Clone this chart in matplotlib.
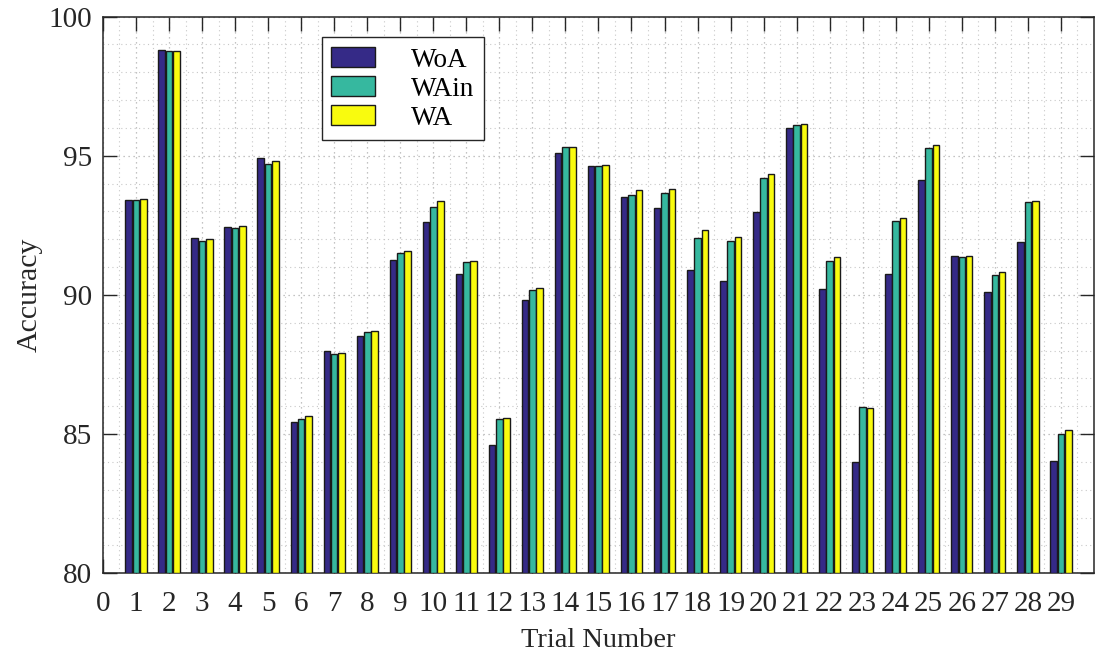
import numpy as np
import matplotlib
matplotlib.use("Agg")
import matplotlib.pyplot as plt
from matplotlib.ticker import MultipleLocator

plt.rcParams['font.family'] = ['Liberation Serif', 'DejaVu Serif']

trials = list(range(1, 30))
woa = [93.41, 98.80, 92.06, 92.44, 94.91, 85.45, 87.99, 88.53, 91.26, 92.63,
       90.77, 84.60, 89.81, 95.11, 94.64, 93.51, 93.12, 90.90, 90.49, 92.99,
       95.99, 90.22, 84.00, 90.74, 94.13, 91.40, 90.11, 91.92, 84.04]
wain = [93.41, 98.77, 91.94, 92.41, 94.72, 85.53, 87.88, 88.66, 91.50, 93.16,
        91.20, 85.53, 90.17, 95.33, 94.64, 93.59, 93.65, 92.05, 91.94, 94.22,
        96.12, 91.22, 85.96, 92.65, 95.29, 91.35, 90.71, 93.33, 84.99]
wa = [93.44, 98.76, 92.00, 92.49, 94.81, 85.64, 87.93, 88.70, 91.58, 93.38,
      91.21, 85.58, 90.25, 95.33, 94.68, 93.76, 93.80, 92.32, 92.10, 94.34,
      96.14, 91.35, 85.94, 92.76, 95.38, 91.39, 90.83, 93.38, 85.15]
series_names = ['WoA', 'WAin', 'WA']
colors = ['#352A87', '#36B89F', '#F9FB0E']

fig = plt.figure(figsize=(11.06, 6.56), dpi=100)
ax = fig.add_axes([0.0931, 0.1261, 0.8960, 0.8485])

x = np.array(trials)
w = 0.2
step = 0.222
for i, (vals, name, c) in enumerate(zip([woa, wain, wa], series_names, colors)):
    ax.bar(x + (i - 1) * step, np.array(vals) - 80, width=w, bottom=80,
           color=c, edgecolor='#1a1a1a', linewidth=1.0, label=name, zorder=3)

ax.set_xlim(0, 30)
ax.set_ylim(80, 100)
ax.set_xticks(range(0, 30))
ax.set_yticks([80, 85, 90, 95, 100])
ax.xaxis.set_minor_locator(MultipleLocator(0.5))
ax.yaxis.set_minor_locator(MultipleLocator(1))

ax.grid(which='major', linestyle=(0, (1, 3)), color='#b0b0b0', linewidth=0.9, zorder=0)
ax.grid(which='minor', linestyle=(0, (1, 3)), color='#c8c8c8', linewidth=0.8, zorder=0)
ax.set_axisbelow(True)

ax.tick_params(which='major', direction='in', length=10, width=1, top=True, right=True,
               labelsize=21, color='#262626', labelcolor='#262626')
ax.tick_params(axis='x', which='major', pad=13)
ax.tick_params(axis='y', which='major', pad=8)
ax.tick_params(which='minor', length=0)
for s in ax.spines.values():
    s.set_color('#262626')
    s.set_linewidth(1.1)

ax.set_xlabel('Trial Number', fontsize=20.5, color='#262626', labelpad=8)
ax.set_ylabel('Accuracy', fontsize=21.5, color='#262626', labelpad=4)

leg = ax.legend(loc='upper left', bbox_to_anchor=(0.221, 0.963), fontsize=19.5,
                frameon=True, fancybox=False, edgecolor='#262626', framealpha=1,
                handlelength=1.6, handleheight=0.8, handletextpad=1.35,
                labelspacing=0.12, borderpad=0.35, borderaxespad=0)
leg.get_frame().set_linewidth(1.0)

fig.savefig('out.png', dpi=100)
